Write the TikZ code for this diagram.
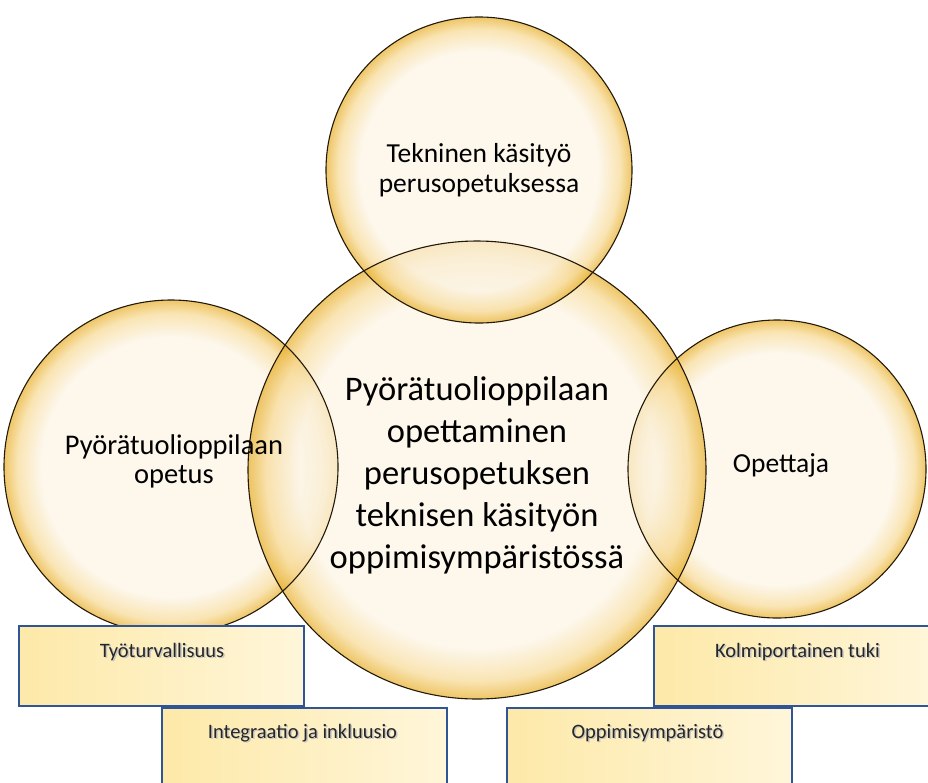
\documentclass[tikz,border=0pt]{standalone}
\usepackage{fontspec}
\setmainfont{Carlito}
\definecolor{cream}{RGB}{252,244,228}
\definecolor{goldmid}{RGB}{247,218,150}
\definecolor{goldrim}{RGB}{232,176,45}
\definecolor{boxA}{RGB}{253,233,168}
\definecolor{boxB}{RGB}{255,246,218}
\definecolor{boxline}{RGB}{47,85,151}
\definecolor{ringline}{RGB}{35,25,8}
\pgfdeclareradialshading{bubbleshade}{\pgfpoint{0bp}{0bp}}{color(0bp)=(cream); color(19.5bp)=(cream); color(23bp)=(goldmid); color(25bp)=(goldrim); color(50bp)=(goldrim)}
\tikzset{
  ring/.style={circle, inner sep=0pt, shading=bubbleshade, fill opacity=0.72},
  ringedge/.style={circle, inner sep=0pt, draw=ringline, line width=1.1pt},
  ringtext/.style={align=center, text=black},
  boxst/.style={rectangle, inner sep=0pt, minimum width=285pt, minimum height=80pt, draw=boxline, line width=2pt, left color=boxA, right color=boxB},
  boxtext/.style={anchor=base, font=\fontsize{20.5}{24}\selectfont, text=black!85},
  boxshadow/.style={anchor=base, font=\fontsize{20.5}{24}\selectfont, text=black!22}
}
\begin{document}
\begin{tikzpicture}[x=1pt,y=-1pt]
\useasboundingbox (0,0) rectangle (928,782);
\clip (0,0) rectangle (928,782);
% circles (fills)
\node[ring, minimum size=334pt] (left) at (171,467) {};
\node[ring, minimum size=298pt] (right) at (777,469) {};
\node[ring, minimum size=458pt] (center) at (477,470) {};
\node[ring, minimum size=306pt] (top) at (479,170) {};
% circle outlines
\node[ringedge, minimum size=334pt] (leftedge) at (left) {};
\node[ringedge, minimum size=298pt] (rightedge) at (right) {};
\node[ringedge, minimum size=458pt] (centeredge) at (center) {};
\node[ringedge, minimum size=306pt] (topedge) at (top) {};
% circle texts
\node[ringtext, font=\fontsize{27.5}{30}\selectfont] (toptext) at (479,170) {Tekninen käsityö\\perusopetuksessa};
\node[ringtext, font=\fontsize{28.5}{29}\selectfont] (lefttext) at (174,461) {Pyörätuolioppilaan\\opetus};
\node[ringtext, font=\fontsize{27.5}{30}\selectfont] (righttext) at (781,465) {Opettaja};
\node[ringtext, font=\fontsize{34.5}{42}\selectfont] (centertext) at (477,475) {Pyörätuolioppilaan\\opettaminen\\perusopetuksen\\teknisen käsityön\\oppimisympäristössä};
% boxes
\node[boxst] (b1) at (161.5,666) {};
\node[boxst] (b3) at (796.5,666) {};
\node[boxst] (b2) at (304.5,748) {};
\node[boxst] (b4) at (649,748) {};
% box texts
\node[boxshadow] at (163.5,658.5) {Työturvallisuus};
\node[boxtext] (t1) at (162,657) {Työturvallisuus};
\node[boxshadow] at (799,658.5) {Kolmiportainen tuki};
\node[boxtext] (t3) at (797.5,657) {Kolmiportainen tuki};
\node[boxshadow] at (304,739.5) {Integraatio ja inkluusio};
\node[boxtext] (t2) at (302.5,738) {Integraatio ja inkluusio};
\node[boxshadow] at (649,739.5) {Oppimisympäristö};
\node[boxtext] (t4) at (647.5,738) {Oppimisympäristö};
\end{tikzpicture}
\end{document}
